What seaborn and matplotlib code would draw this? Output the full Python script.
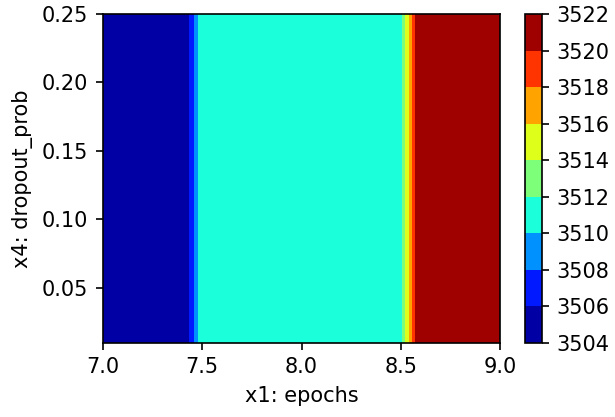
import numpy as np
import matplotlib
matplotlib.use("Agg")
import matplotlib.pyplot as plt
from matplotlib.colors import Normalize
import seaborn as sns

# Data (objective depends only on x1 along this slice)
x_epochs = [7.0, 7.415, 7.493, 8.497, 8.585, 9.0]
objective = [3504.4, 3504.4, 3511.0, 3511.0, 3521.5, 3521.5]
y_dropout = [0.01, 0.25]
levels = list(range(3504, 3523, 2))
x_ticks = [7.0, 7.5, 8.0, 8.5, 9.0]
y_ticks = [0.05, 0.10, 0.15, 0.20, 0.25]

sns.set_style("ticks", {"axes.edgecolor": "black", "xtick.color": "black",
                        "ytick.color": "black", "text.color": "black",
                        "axes.labelcolor": "black"})
s = 1.5
plt.rcParams.update({
    "font.family": ["DejaVu Sans"],
    "font.size": 15,
    "axes.linewidth": 0.8 * s,
    "xtick.major.size": 3.5 * s, "ytick.major.size": 3.5 * s,
    "xtick.major.width": 0.8 * s, "ytick.major.width": 0.8 * s,
    "xtick.major.pad": 3.5 * s, "ytick.major.pad": 3.5 * s,
    "axes.labelpad": 4.0 * s,
})

X, Y = np.meshgrid(x_epochs, y_dropout)
Z = np.tile(objective, (len(y_dropout), 1))

fig = plt.figure(figsize=(6.15, 4.17), dpi=100)
ax = fig.add_axes([102.7 / 615, (417 - 342.7) / 417, 397.6 / 615, 328.7 / 417])
cax = fig.add_axes([524.7 / 615, (417 - 342.7) / 417, 17.3 / 615, 328.7 / 417])

norm = Normalize(vmin=min(objective), vmax=max(objective))
cs = ax.contourf(X, Y, Z, levels=levels, cmap="jet", norm=norm)
cb = fig.colorbar(cs, cax=cax, ticks=levels)
cb.ax.tick_params(labelsize=15, length=3.5 * s, width=0.8 * s, pad=3.5 * s)
cb.outline.set_linewidth(0.8 * s)

ax.set_xlim(7.0, 9.0)
ax.set_ylim(y_dropout[0], y_dropout[1])
ax.set_xticks(x_ticks)
ax.set_xticklabels([f"{v:.1f}" for v in x_ticks])
ax.set_yticks(y_ticks)
ax.set_yticklabels([f"{v:.2f}" for v in y_ticks])
ax.tick_params(labelsize=15)
ax.set_xlabel("x1: epochs", fontsize=15)
ax.set_ylabel("x4: dropout_prob", fontsize=15)

fig.savefig("out.png", dpi=100)
